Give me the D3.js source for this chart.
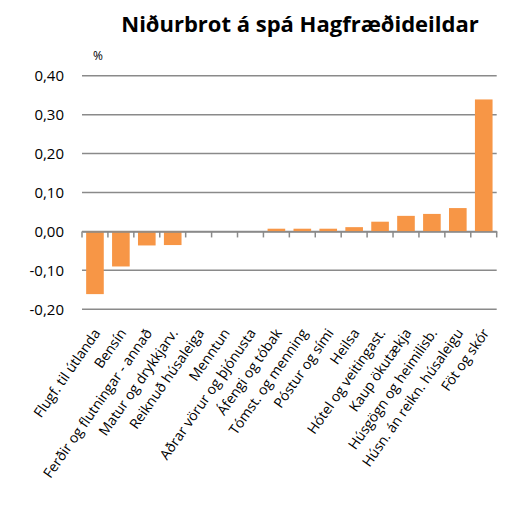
<!DOCTYPE html>
<html>
<head>
  <meta charset="utf-8">
  <title>Niðurbrot á spá Hagfræðideildar</title>
  <script src="https://d3js.org/d3.v7.min.js"></script>
  <style>
    body { margin: 0; background: #fff; }
    svg { font-family: "Open Sans", "Noto Sans", sans-serif; }
  </style>
</head>
<body>
  <div id="chart"></div>
  <script>
    // chart data
    var categories = [
      "Flugf. til útlanda", "Bensín", "Ferðir og flutningar - annað",
      "Matur og drykkjarv.", "Reiknuð húsaleiga", "Menntun",
      "Aðrar vörur og þjónusta", "Áfengi og tóbak", "Tómst. og menning",
      "Póstur og sími", "Heilsa", "Hótel og veitingast.", "Kaup ökutækja",
      "Húsgögn og heimilisb.", "Húsn. án reikn. húsaleigu", "Föt og skór"
    ];
    var values = [-0.161, -0.090, -0.036, -0.035, 0, 0, 0, 0.007, 0.007,
                  0.007, 0.011, 0.025, 0.040, 0.045, 0.060, 0.339];
    var yTicks = [-0.2, -0.1, 0, 0.1, 0.2, 0.3, 0.4];

    function drawChart() {
      var width = 512, height = 517;
      var margin = { top: 75.7, right: 15.3, bottom: 207.7, left: 82 };

      var svg = d3.select("#chart").append("svg")
        .attr("width", width)
        .attr("height", height);

      var x = d3.scaleBand()
        .domain(categories)
        .range([margin.left, width - margin.right])
        .paddingInner(0.32)
        .paddingOuter(0.16);

      var y = d3.scaleLinear()
        .domain([-0.2, 0.4])
        .range([height - margin.bottom, margin.top]);

      var fmt = function (d) { return d3.format(".2f")(d).replace(".", ",").replace("−", "-"); };

      // gridlines
      svg.append("g")
        .selectAll("line")
        .data(yTicks)
        .enter()
        .append("line")
        .attr("x1", margin.left)
        .attr("x2", width - margin.right)
        .attr("y1", function (d) { return y(d); })
        .attr("y2", function (d) { return y(d); })
        .attr("stroke", "#8a8a8a")
        .attr("stroke-width", 1.5);

      // y labels
      svg.append("g")
        .selectAll("text")
        .data(yTicks)
        .enter()
        .append("text")
        .attr("x", 64)
        .attr("y", function (d) { return y(d); })
        .attr("dy", "0.36em")
        .attr("text-anchor", "end")
        .attr("font-size", 15)
        .attr("fill", "#000")
        .text(fmt);

      // bars
      svg.append("g")
        .selectAll("rect")
        .data(values)
        .enter()
        .append("rect")
        .attr("x", function (d, i) { return x(categories[i]); })
        .attr("width", x.bandwidth())
        .attr("y", function (d) { return y(Math.max(0, d)); })
        .attr("height", function (d) { return Math.abs(y(d) - y(0)); })
        .attr("fill", "#f79646");

      // category axis at zero
      var xAxis = d3.axisBottom(x).tickSize(0).tickFormat("");
      svg.append("g")
        .attr("transform", "translate(0," + y(0) + ")")
        .call(xAxis)
        .call(function (g) { g.select(".domain").attr("stroke", "#8a8a8a").attr("stroke-width", 1.5); });

      // ticks between categories
      var step = x.step();
      var bounds = d3.range(categories.length + 1).map(function (i) { return margin.left + i * step; });
      svg.append("g")
        .selectAll("line")
        .data(bounds)
        .enter()
        .append("line")
        .attr("x1", function (d) { return d; })
        .attr("x2", function (d) { return d; })
        .attr("y1", y(0))
        .attr("y2", y(0) + 6)
        .attr("stroke", "#8a8a8a")
        .attr("stroke-width", 1.5);

      // rotated category labels
      svg.append("g")
        .selectAll("text")
        .data(categories)
        .enter()
        .append("text")
        .attr("transform", function (d) {
          return "translate(" + (x(d) + x.bandwidth() / 2 + 6) + "," + 333 + ") rotate(-55)";
        })
        .attr("text-anchor", "end")
        .attr("font-size", 14)
        .attr("fill", "#000")
        .text(function (d) { return d; });

      // title and unit
      svg.append("text")
        .attr("x", 300)
        .attr("y", 32)
        .attr("text-anchor", "middle")
        .attr("font-size", 22)
        .attr("font-weight", "bold")
        .text("Niðurbrot á spá Hagfræðideildar");

      svg.append("text")
        .attr("x", 93)
        .attr("y", 60)
        .attr("font-size", 12)
        .text("%");
    }

    drawChart();
  </script>
</body>
</html>
